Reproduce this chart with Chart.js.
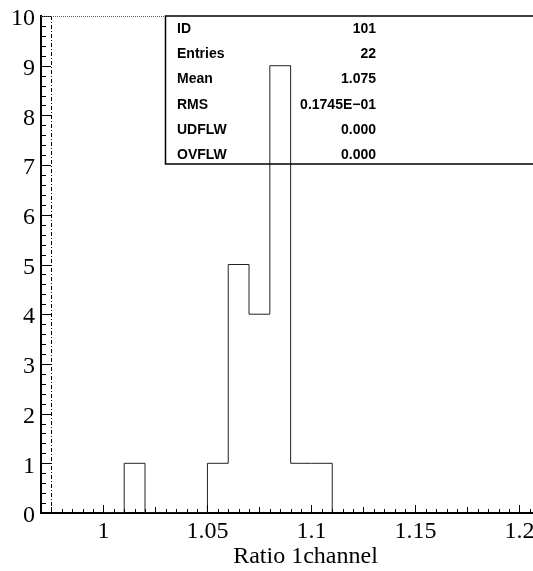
<!DOCTYPE html>
<html>
<head>
<meta charset="utf-8">
<script src="https://cdn.jsdelivr.net/npm/chart.js@4/dist/chart.umd.min.js"></script>
<style>
html, body { margin: 0; padding: 0; background: #fff; overflow: hidden; }
#wrap { width: 570px; height: 571px; }
</style>
</head>
<body>
<div id="wrap"><canvas id="hist" width="570" height="571"></canvas></div>
<script>
'use strict'
// histogram 101: bin edges and contents
const binEdges = [1.00, 1.01, 1.02, 1.03, 1.04, 1.05, 1.06, 1.07, 1.08, 1.09, 1.10, 1.11];
const binCounts = [0, 1, 0, 0, 0, 1, 5, 4, 9, 1, 1];

const xTickValues = [1, 1.05, 1.1, 1.15, 1.2];
const xTickLabels = ['1', '1.05', '1.1', '1.15', '1.2'];
const xRange = [0.97, 1.2243];
const yRange = [0, 10];
const markerX = 0.975;

const statLabels = ['ID', 'Entries', 'Mean', 'RMS', 'UDFLW', 'OVFLW'];
const statValues = ['101', '22', '1.075', '0.1745E\u221201', '0.000', '0.000'];

const serif = "'Liberation Serif', 'Times New Roman', serif";

// outline points: each bin starts at its left edge, closed back to 0 at the last edge
let outline = binCounts.map((c, i) => ({ x: binEdges[i], y: c }));
outline.push({ x: binEdges[binEdges.length - 1], y: 0 });

// inward ticks, dash-dot marker, dotted frame top and the stats box
const frameDecor = {
    id: 'frameDecor',
    afterDraw(chart) {
        const ctx = chart.ctx;
        const xs = chart.scales.x;
        const ys = chart.scales.y;
        const area = chart.chartArea;
        ctx.save();
        ctx.strokeStyle = '#000';
        ctx.lineWidth = 1;
        ctx.beginPath();
        for (let n = 194; n <= 245; n++) {
            const v = n * 0.005;
            if (v < xs.min || v > xs.max) continue;
            const px = Math.round(xs.getPixelForValue(v)) + 0.5;
            const len = n % 10 == 0 ? 8 : (n % 5 == 0 ? 6 : 4);
            ctx.moveTo(px, area.bottom);
            ctx.lineTo(px, area.bottom - len);
        }
        for (let n = 0; n <= 50; n++) {
            const py = Math.round(ys.getPixelForValue(n * 0.2)) + 0.5;
            const len = n % 5 == 0 ? 10 : 5;
            ctx.moveTo(area.left, py);
            ctx.lineTo(area.left + len, py);
        }
        ctx.stroke();

        const mx = Math.round(xs.getPixelForValue(markerX)) + 0.5;
        ctx.setLineDash([4, 2, 1, 2]);
        ctx.beginPath();
        ctx.moveTo(mx, area.top);
        ctx.lineTo(mx, area.bottom);
        ctx.stroke();

        const boxLeft = 165;
        ctx.strokeStyle = '#555';
        ctx.setLineDash([1, 1]);
        ctx.beginPath();
        ctx.moveTo(area.left, area.top + 0.5);
        ctx.lineTo(boxLeft, area.top + 0.5);
        ctx.stroke();

        ctx.setLineDash([]);
        ctx.strokeStyle = '#000';
        ctx.lineWidth = 1.5;
        ctx.strokeRect(boxLeft + 0.5, area.top, 600, 148);

        ctx.fillStyle = '#000';
        ctx.font = "bold 14px 'Liberation Sans', Arial, sans-serif";
        ctx.textBaseline = 'alphabetic';
        statLabels.forEach((label, i) => {
            const y = area.top + 17 + i * 25.2;
            ctx.textAlign = 'left';
            ctx.fillText(label, 177, y);
            ctx.textAlign = 'right';
            ctx.fillText(statValues[i], 376, y);
        });
        ctx.restore();
    }
};

new Chart(document.getElementById('hist'), {
    type: 'line',
    data: {
        datasets: [{
            data: outline,
            stepped: 'before',
            borderColor: '#222',
            borderWidth: 1,
            pointRadius: 0,
            fill: false
        }]
    },
    options: {
        responsive: false,
        animation: false,
        layout: { padding: { top: 16, left: 0, right: 0, bottom: 0 } },
        plugins: { legend: { display: false }, tooltip: { enabled: false } },
        scales: {
            x: {
                type: 'linear',
                min: xRange[0],
                max: xRange[1],
                afterFit: scale => {
                    scale.height = 58;
                    scale.paddingLeft = 0;
                    scale.paddingRight = 0;
                },
                afterBuildTicks: scale => { scale.ticks = xTickValues.map(v => ({ value: v })); },
                grid: { display: false, drawTicks: false },
                border: { display: true, color: '#000', width: 2 },
                ticks: {
                    color: '#000',
                    padding: 4,
                    maxRotation: 0,
                    autoSkip: false,
                    font: { family: serif, size: 24 },
                    callback: (value, index) => xTickLabels[index]
                },
                title: {
                    display: true,
                    text: 'Ratio 1channel',
                    color: '#000',
                    padding: { top: 0, bottom: 0 },
                    font: { family: serif, size: 24 }
                }
            },
            y: {
                min: yRange[0],
                max: yRange[1],
                afterFit: scale => {
                    scale.width = 41;
                    scale.paddingTop = 0;
                    scale.paddingBottom = 0;
                },
                grid: { display: false, drawTicks: false },
                border: { display: true, color: '#000', width: 2 },
                ticks: {
                    stepSize: 1,
                    color: '#000',
                    padding: 6,
                    labelOffset: 3,
                    font: { family: serif, size: 24 }
                }
            }
        }
    },
    plugins: [frameDecor]
});
</script>
</body>
</html>
